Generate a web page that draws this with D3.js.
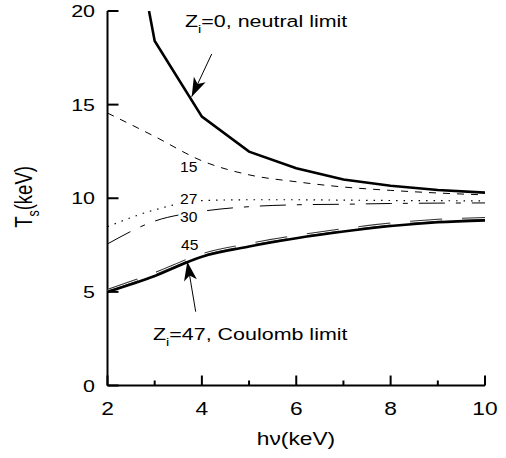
<!DOCTYPE html>
<html><head><meta charset="utf-8">
<script src="https://cdn.jsdelivr.net/npm/d3@7"></script>
<style>body{margin:0;background:#fff}svg{display:block}text{font-family:"Liberation Sans",Arial,Helvetica,sans-serif;fill:#000}</style>
</head><body>
<script>
// ---- data ----
const energies = [2, 3, 4, 5, 6, 7, 8, 9, 10];
const neutralE = [2.88, 3, 4, 5, 6, 7, 8, 9, 10];
const tsZ0  = [20, 18.4, 14.36, 12.49, 11.6, 11.0, 10.67, 10.44, 10.3];
const tsZ15 = [14.55, 13.3, 12.0, 11.25, 10.88, 10.6, 10.42, 10.28, 10.18];
const tsZ27 = [8.48, 9.38, 9.87, 9.92, 9.92, 9.9, 9.88, 9.87, 9.86];
const tsZ30 = [7.56, 8.78, 9.3, 9.55, 9.65, 9.68, 9.72, 9.74, 9.75];
const tsZ45 = [5.02, 5.92, 6.93, 7.48, 7.91, 8.27, 8.57, 8.77, 8.86];
const tsZ47 = [5.0, 5.85, 6.88, 7.42, 7.86, 8.22, 8.52, 8.72, 8.82];
const xTicks = [2, 4, 6, 8, 10];
const xMinor = [3, 5, 7, 9];
const yTicks = [0, 5, 10, 15, 20];

const W = 506, H = 458;
const svg = d3.select("body").append("svg").attr("width", W).attr("height", H);
const x = d3.scaleLinear().domain([2, 10]).range([107.5, 485]);
const y = d3.scaleLinear().domain([0, 20]).range([385.5, 11]);

svg.append("defs").append("clipPath").attr("id", "clip")
  .append("rect").attr("x", x(2)).attr("y", y(20)).attr("width", x(10) - x(2)).attr("height", y(0) - y(20));

const SX = 1.3;
function label(px, py, anchor, size, parts, sx) {
  const g = svg.append("g").attr("transform", `translate(${px},${py}) scale(${sx || SX},1)`);
  const t = g.append("text").attr("text-anchor", anchor).attr("font-size", size);
  parts.forEach(p => {
    const ts = t.append("tspan").text(p.t);
    if (p.sub) ts.attr("font-size", size * 0.68).attr("dy", size * 0.38);
    if (p.back) ts.attr("dy", -size * 0.38);
  });
  return t;
}

// axes
const xAxis = d3.axisBottom(x).tickValues(xTicks).tickSize(0).tickFormat(d3.format("d"));
const yAxis = d3.axisLeft(y).tickValues(yTicks).tickSize(0).tickFormat(d3.format("d"));
svg.append("line").attr("x1", x(2)).attr("x2", x(10)).attr("y1", y(0)).attr("y2", y(0)).attr("stroke", "#000").attr("stroke-width", 2);
svg.append("line").attr("x1", x(2)).attr("x2", x(2)).attr("y1", y(0)).attr("y2", y(20)).attr("stroke", "#000").attr("stroke-width", 2);
xTicks.forEach(v => svg.append("line").attr("x1", x(v)).attr("x2", x(v)).attr("y1", y(0)).attr("y2", y(0) - 10).attr("stroke", "#000").attr("stroke-width", 2));
xMinor.forEach(v => svg.append("line").attr("x1", x(v)).attr("x2", x(v)).attr("y1", y(0)).attr("y2", y(0) - 5).attr("stroke", "#000").attr("stroke-width", 2));
yTicks.forEach(v => svg.append("line").attr("x1", x(2)).attr("x2", x(2) + 11).attr("y1", y(v)).attr("y2", y(v)).attr("stroke", "#000").attr("stroke-width", 2));
xTicks.forEach(v => label(x(v), 415, "middle", 17.5, [{t: xAxis.tickFormat()(v)}]));
yTicks.forEach(v => label(95, y(v) + 6, "end", 16.5, [{t: yAxis.tickFormat()(v)}]));

label(296, 445, "middle", 17.5, [{t: "hν(keV)"}]);
// y title
const gy = svg.append("g").attr("transform", `translate(32,197) scale(${SX},1) rotate(-90)`);
const ty = gy.append("text").attr("text-anchor", "middle").attr("font-size", 18.5);
ty.append("tspan").text("T");
ty.append("tspan").text("s").attr("font-size", 12.5).attr("dy", 5);
ty.append("tspan").text("(keV)").attr("dy", -5);

// curves
const plot = svg.append("g").attr("clip-path", "url(#clip)");
function curve(xs, ys, curveType) {
  return d3.line().x((d, i) => x(xs[i])).y(d => y(d)).curve(curveType)(ys);
}
plot.append("path").attr("d", curve(energies, tsZ15, d3.curveMonotoneX)).attr("fill", "none").attr("stroke", "#000").attr("stroke-width", 1).attr("stroke-dasharray", "7,7");
plot.append("path").attr("d", curve(energies, tsZ27, d3.curveMonotoneX)).attr("fill", "none").attr("stroke", "#000").attr("stroke-width", 1.2).attr("stroke-dasharray", "1.5,6");
plot.append("path").attr("d", curve(energies, tsZ30, d3.curveMonotoneX)).attr("fill", "none").attr("stroke", "#000").attr("stroke-width", 1).attr("stroke-dasharray", "26,11,5,11");
const d45 = curve(energies, tsZ45, d3.curveMonotoneX);
plot.append("path").attr("d", d45).attr("fill", "none").attr("stroke", "#333").attr("stroke-width", 3).attr("stroke-dasharray", "32,20").attr("transform", "translate(0,-1)");
plot.append("path").attr("d", d45).attr("fill", "none").attr("stroke", "#fff").attr("stroke-width", 1).attr("stroke-dasharray", "32,20").attr("transform", "translate(0,-1)");
plot.append("path").attr("d", curve(energies, tsZ47, d3.curveMonotoneX)).attr("fill", "none").attr("stroke", "#000").attr("stroke-width", 2.6);
plot.append("path").attr("d", curve(neutralE, tsZ0, d3.curveLinear)).attr("fill", "none").attr("stroke", "#000").attr("stroke-width", 2.6);

// curve labels (white halo makes the gaps)
function clabel(px, py, s) {
  label(px, py, "start", 14, [{t: s}], 1.12).attr("stroke", "#fff").attr("stroke-width", 4).attr("paint-order", "stroke");
}
clabel(180, 172, "15");
clabel(180, 204, "27");
clabel(180, 222, "30");
clabel(181, 250, "45");

// annotations
label(185, 27, "start", 16.5, [{t: "Z"}, {t: "i", sub: true}, {t: "=0, neutral limit", back: true}]);
label(153, 340, "start", 16.5, [{t: "Z"}, {t: "i", sub: true}, {t: "=47, Coulomb limit", back: true}]);

function arrow(x1, y1, x2, y2) {
  const a = Math.atan2(y2 - y1, x2 - x1) * 180 / Math.PI;
  svg.append("line").attr("x1", x1).attr("y1", y1).attr("x2", x2).attr("y2", y2).attr("stroke", "#000").attr("stroke-width", 1);
  svg.append("path").attr("d", "M0,0 L-19,-6.5 L-14,0 L-19,6.5 Z").attr("fill", "#000")
    .attr("transform", `translate(${x2},${y2}) rotate(${a})`);
}
arrow(211.7, 54, 191.7, 96.7);
arrow(195.7, 311.7, 187.3, 261.7);
</script>
</body></html>
